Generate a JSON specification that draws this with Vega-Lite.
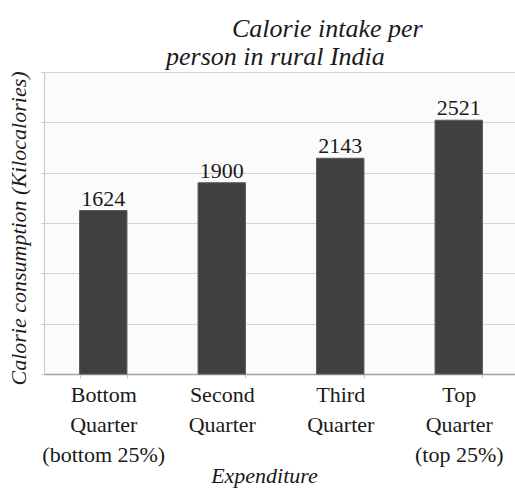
{
  "$schema": "https://vega.github.io/schema/vega-lite/v6.json",
  "autosize": {"type": "pad"},
  "padding": {"left": 7, "top": 15, "right": 0, "bottom": 3},
  "background": "white",
  "title": {
    "text": "Calorie intake per",
    "font": "Liberation Serif",
    "fontStyle": "italic",
    "fontWeight": "normal",
    "fontSize": 26,
    "color": "#1a1a1a",
    "anchor": "start",
    "align": "left",
    "frame": "group",
    "baseline": "alphabetic",
    "dx": 188,
    "offset": -19
  },
  "config": {
    "view": {"fill": "#fbfbfb", "stroke": null}
  },
  "vconcat": [
    {
      "width": 474,
      "height": 302,
      "title": {
        "text": "person in rural India",
        "font": "Liberation Serif",
        "fontStyle": "italic",
        "fontWeight": "normal",
        "fontSize": 26,
        "color": "#1a1a1a",
        "anchor": "start",
        "align": "left",
        "frame": "group",
        "baseline": "alphabetic",
        "dx": 122,
        "offset": -20
      },
      "data": {
        "values": [
          {"q": "Bottom|Quarter|(bottom 25%)", "v": 1624},
          {"q": "Second|Quarter", "v": 1900},
          {"q": "Third|Quarter", "v": 2143},
          {"q": "Top|Quarter|(top 25%)", "v": 2521}
        ]
      },
      "encoding": {
        "x": {
          "field": "q",
          "type": "nominal",
          "sort": null,
          "scale": {"paddingInner": 0.6, "paddingOuter": 0.3},
          "axis": {
            "title": "Expenditure",
            "titleFont": "Liberation Serif",
            "titleFontStyle": "italic",
            "titleFontWeight": "normal",
            "titleFontSize": 22,
            "titleColor": "#1a1a1a",
            "titleX": 220,
            "titleY": 108,
            "titleBaseline": "alphabetic",
            "titleAlign": "center",
            "labelExpr": "split(datum.label, '|')",
            "labelFont": "Liberation Serif",
            "labelFontSize": 22,
            "labelColor": "#1a1a1a",
            "labelLineHeight": 30,
            "labelBaseline": "alphabetic",
            "labelAngle": 0,
            "labelPadding": 23,
            "labelOverlap": false,
            "labelLimit": 300,
            "domainColor": "#a0a0a0",
            "domainWidth": 1.5,
            "tickBand": "extent",
            "tickColor": "#c8c8c8",
            "tickSize": 4
          }
        },
        "y": {
          "field": "v",
          "type": "quantitative",
          "scale": {"domain": [0, 3000], "nice": false},
          "axis": {
            "title": "Calorie consumption (Kilocalories)",
            "titleFont": "Liberation Serif",
            "titleFontStyle": "italic",
            "titleFontWeight": "normal",
            "titleFontSize": 22,
            "titleColor": "#1a1a1a",
            "titleAngle": -90,
            "titleX": -14,
            "titleY": 156,
            "titleBaseline": "bottom",
            "titleAlign": "center",
            "labels": false,
            "values": [0, 500, 1000, 1500, 2000, 2500, 3000],
            "tickSize": 3,
            "tickColor": "#c8c8c8",
            "domainColor": "#c8c8c8",
            "gridColor": "#d4d4d4"
          }
        }
      },
      "layer": [
        {"mark": {"type": "bar", "color": "#404040", "stroke": "#5a5a5a", "strokeWidth": 1}},
        {
          "mark": {
            "type": "text",
            "font": "Liberation Serif",
            "fontSize": 22,
            "color": "#1a1a1a",
            "baseline": "alphabetic",
            "dy": -5
          },
          "encoding": {"text": {"field": "v", "type": "quantitative"}}
        }
      ]
    }
  ]
}
